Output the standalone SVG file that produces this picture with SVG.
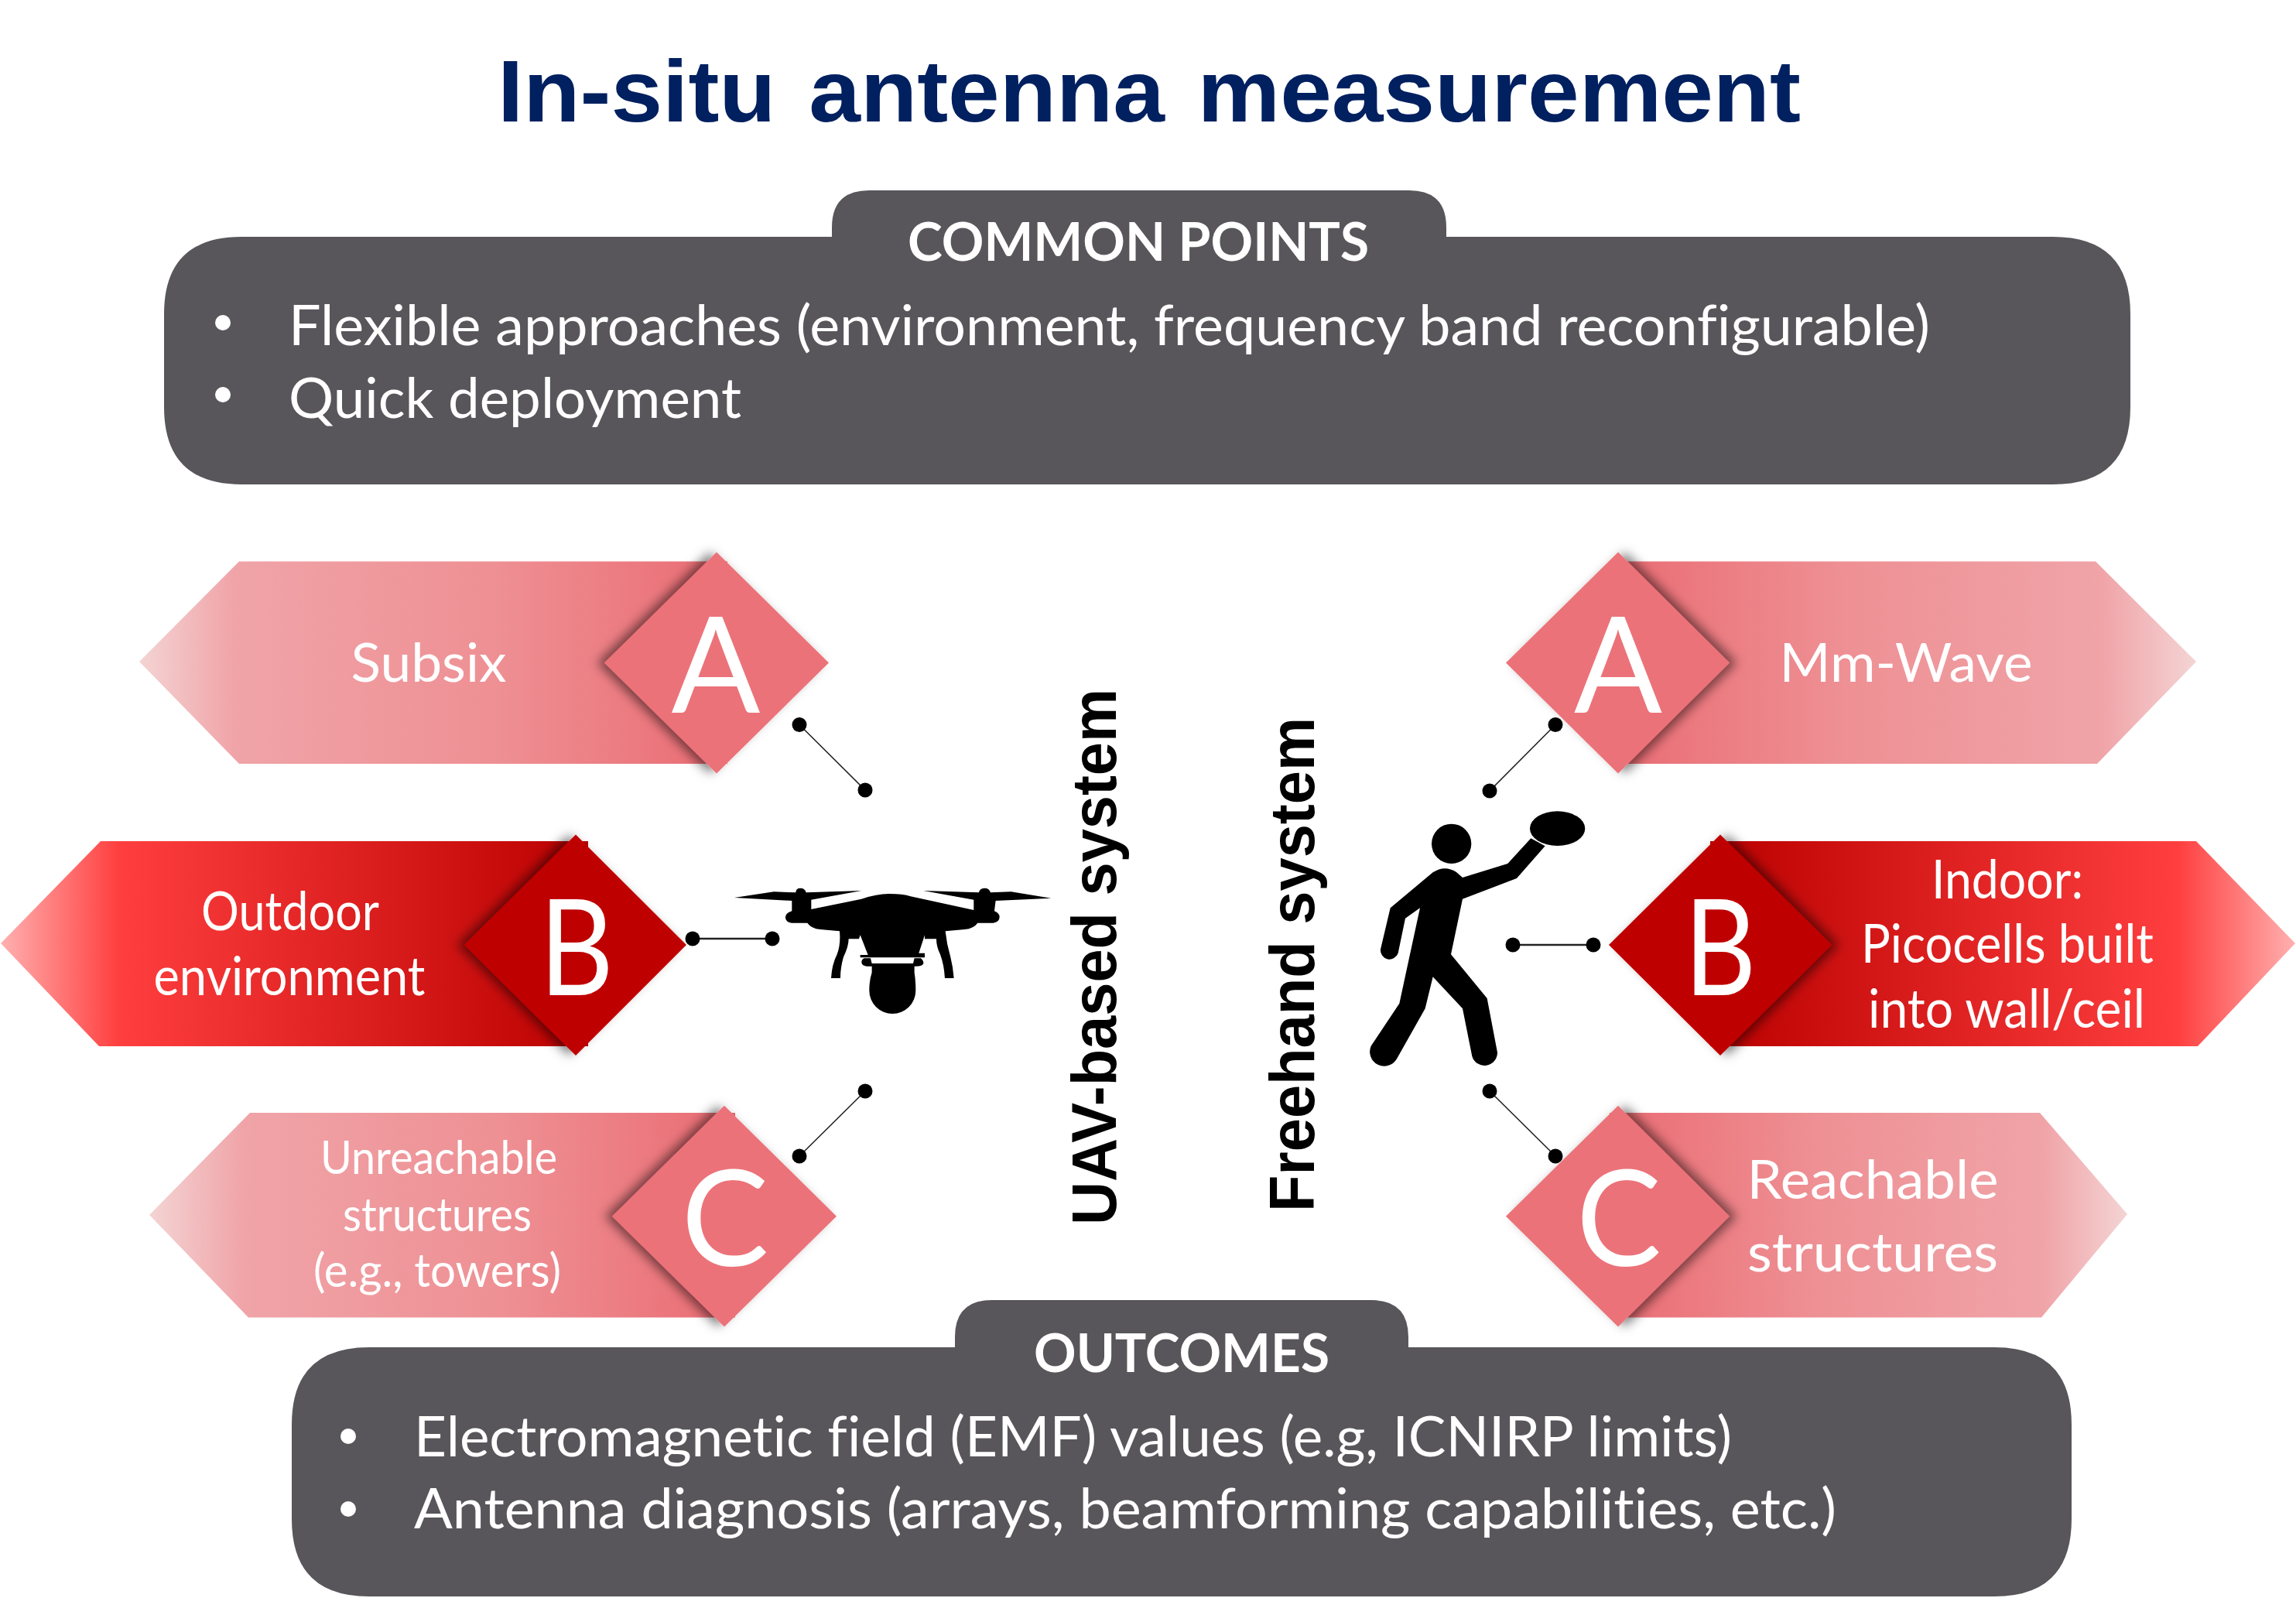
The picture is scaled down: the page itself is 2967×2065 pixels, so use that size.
<svg xmlns="http://www.w3.org/2000/svg" width="2967" height="2065" viewBox="0 0 2967 2065">
<defs>
<linearGradient id="gl" x1="0" x2="1" y1="0" y2="0"><stop offset="0" stop-color="#f4d4d4"/><stop offset=".16" stop-color="#f0a4a8"/><stop offset=".6" stop-color="#ee9094"/><stop offset="1" stop-color="#ea6c73"/></linearGradient>
<linearGradient id="gr" x1="1" x2="0" y1="0" y2="0"><stop offset="0" stop-color="#f4d4d4"/><stop offset=".16" stop-color="#f0a4a8"/><stop offset=".6" stop-color="#ee9094"/><stop offset="1" stop-color="#ea6c73"/></linearGradient>
<linearGradient id="gbl" x1="0" x2="1" y1="0" y2="0"><stop offset="0" stop-color="#ffb0b0"/><stop offset=".2" stop-color="#ff3f3f"/><stop offset="1" stop-color="#bb0000"/></linearGradient>
<linearGradient id="gbr" x1="1" x2="0" y1="0" y2="0"><stop offset="0" stop-color="#ffb0b0"/><stop offset=".2" stop-color="#ff3f3f"/><stop offset="1" stop-color="#bb0000"/></linearGradient>
<filter id="sl" x="-20%" y="-20%" width="140%" height="140%"><feDropShadow dx="-9" dy="0" stdDeviation="7" flood-color="#000" flood-opacity=".5"/></filter>
<filter id="sr" x="-20%" y="-20%" width="140%" height="140%"><feDropShadow dx="9" dy="0" stdDeviation="7" flood-color="#000" flood-opacity=".5"/></filter>
</defs>
<style>
text{font-family:"Lato","Carlito","Open Sans",sans-serif;fill:#fff;font-variant-ligatures:none}
.b{font-family:"Liberation Sans",Arial,sans-serif;font-weight:700}
.title{font-size:114px;fill:#002060;word-spacing:9px}
.v{font-size:82px;fill:#000}
.h{font-size:68px;font-weight:700;text-anchor:middle}
.l{font-size:72px}
.m{font-size:70px;text-anchor:middle}
.s{font-size:60px;text-anchor:middle}
.big{font-size:172px;font-weight:400;text-anchor:middle}
.pink{fill:#ec7279}
.red{fill:#bf0000}
.panel{fill:#58565a}
#connectors line{stroke:#222;stroke-width:1.6}
#connectors line.hz{stroke-width:2.5}
#connectors circle{fill:#000}
</style>
<rect width="2967" height="2065" fill="#fff"/>
<text id="title" class="b title" x="643" y="157" textLength="1684" lengthAdjust="spacingAndGlyphs">In-situ antenna measurement</text>

<g id="common-points">
<path class="panel" d="M1075 306V294Q1075 246 1123 246H1821Q1869 246 1869 294V306H2653Q2753 306 2753 406V526Q2753 626 2653 626H312Q212 626 212 526V406Q212 306 312 306Z"/>
<text class="h" x="1471" y="337" textLength="596" lengthAdjust="spacingAndGlyphs">COMMON POINTS</text>
<circle cx="288" cy="417" r="10" fill="#fff"/><circle cx="288" cy="510" r="10" fill="#fff"/>
<text class="l" x="373" y="446" textLength="2121" lengthAdjust="spacingAndGlyphs">Flexible approaches (environment, frequency band reconfigurable)</text>
<text class="l" x="373" y="540" textLength="585" lengthAdjust="spacingAndGlyphs">Quick deployment</text>
</g>

<g id="outcomes">
<path class="panel" d="M1234 1741V1728Q1234 1680 1282 1680H1772Q1820 1680 1820 1728V1741H2577Q2677 1741 2677 1841V1963Q2677 2063 2577 2063H477Q377 2063 377 1963V1841Q377 1741 477 1741Z"/>
<text class="h" x="1527" y="1773" textLength="382" lengthAdjust="spacingAndGlyphs">OUTCOMES</text>
<circle cx="450" cy="1856" r="10" fill="#fff"/><circle cx="450" cy="1950" r="10" fill="#fff"/>
<text class="l" x="535" y="1882" textLength="1703" lengthAdjust="spacingAndGlyphs">Electromagnetic field (EMF) values (e.g, ICNIRP limits)</text>
<text class="l" x="535" y="1975" textLength="1838" lengthAdjust="spacingAndGlyphs">Antenna diagnosis (arrays, beamforming capabilities, etc.)</text>
</g>

<g id="left-a">
<polygon fill="url(#gl)" points="180,855 309,725.5 940,725.5 940,987 309,987"/>
<polygon class="pink" filter="url(#sl)" points="926,713.5 1071,856.5 926,999.5 781,856.5"/>
<text class="big" x="925" y="921" textLength="115" lengthAdjust="spacingAndGlyphs">A</text>
<text class="m" x="554" y="881" textLength="201" lengthAdjust="spacingAndGlyphs">Subsix</text>
</g>
<g id="left-b">
<polygon fill="url(#gbl)" points="1,1219 130,1087 760,1087 760,1352 128,1352"/>
<polygon class="red" filter="url(#sl)" points="744,1078.5 887,1221 744,1364 600,1221"/>
<text class="big" x="745" y="1286" textLength="96" lengthAdjust="spacingAndGlyphs">B</text>
<text class="m" x="375" y="1202" textLength="230" lengthAdjust="spacingAndGlyphs">Outdoor</text>
<text class="m" x="374" y="1286" textLength="351" lengthAdjust="spacingAndGlyphs">environment</text>
</g>
<g id="left-c">
<polygon fill="url(#gl)" points="193,1570 323,1438 950,1438 950,1702.6 321,1702.6"/>
<polygon class="pink" filter="url(#sl)" points="936,1428.7 1081,1571.7 936,1714.6 791,1571.7"/>
<text class="big" x="937" y="1636" textLength="113" lengthAdjust="spacingAndGlyphs">C</text>
<text class="s" x="567" y="1517" textLength="306" lengthAdjust="spacingAndGlyphs">Unreachable</text>
<text class="s" x="565" y="1591" textLength="244" lengthAdjust="spacingAndGlyphs">structures</text>
<text class="s" x="565" y="1663" textLength="320" lengthAdjust="spacingAndGlyphs">(e.g., towers)</text>
</g>
<g id="right-a">
<polygon fill="url(#gr)" points="2838,855 2708,725.5 2080,725.5 2080,987 2710,987"/>
<polygon class="pink" filter="url(#sr)" points="2091,713.5 2235,856.5 2091,999.5 1946,856.5"/>
<text class="big" x="2091" y="921" textLength="114" lengthAdjust="spacingAndGlyphs">A</text>
<text class="m" x="2463" y="881" textLength="327" lengthAdjust="spacingAndGlyphs">Mm-Wave</text>
</g>
<g id="right-b">
<polygon fill="url(#gbr)" points="2966,1219 2838,1087 2210,1087 2210,1352 2840,1352"/>
<polygon class="red" filter="url(#sr)" points="2223,1078.5 2367,1221 2223,1364 2079,1221"/>
<text class="big" x="2223" y="1286" textLength="93" lengthAdjust="spacingAndGlyphs">B</text>
<text class="m" x="2594" y="1161" textLength="196" lengthAdjust="spacingAndGlyphs">Indoor:</text>
<text class="m" x="2594" y="1244" textLength="378" lengthAdjust="spacingAndGlyphs">Picocells built</text>
<text class="m" x="2593" y="1328" textLength="358" lengthAdjust="spacingAndGlyphs">into wall/ceil</text>
</g>
<g id="right-c">
<polygon fill="url(#gr)" points="2749,1569 2636,1438 2080,1438 2080,1702.6 2638,1702.6"/>
<polygon class="pink" filter="url(#sr)" points="2091,1428.7 2235,1571.7 2091,1714.6 1946,1571.7"/>
<text class="big" x="2092" y="1636" textLength="110" lengthAdjust="spacingAndGlyphs">C</text>
<text class="m" x="2420" y="1549" textLength="325" lengthAdjust="spacingAndGlyphs">Reachable</text>
<text class="m" x="2420" y="1643" textLength="324" lengthAdjust="spacingAndGlyphs">structures</text>
</g>

<g id="connectors">
<line x1="1033" y1="936.5" x2="1118" y2="1021"/><circle cx="1033" cy="936.5" r="9.5"/><circle cx="1118" cy="1021" r="9.5"/>
<line class="hz" x1="895" y1="1213" x2="998" y2="1213"/><circle cx="895" cy="1213" r="9.5"/><circle cx="998" cy="1213" r="9.5"/>
<line x1="1033" y1="1494" x2="1118" y2="1410"/><circle cx="1033" cy="1494" r="9.5"/><circle cx="1118" cy="1410" r="9.5"/>
<line x1="2010" y1="936.5" x2="1925" y2="1022"/><circle cx="2010" cy="936.5" r="9.5"/><circle cx="1925" cy="1022" r="9.5"/>
<line class="hz" x1="1955" y1="1221" x2="2059" y2="1221"/><circle cx="1955" cy="1221" r="9.5"/><circle cx="2059" cy="1221" r="9.5"/>
<line x1="1925" y1="1410" x2="2010" y2="1494"/><circle cx="1925" cy="1410" r="9.5"/><circle cx="2010" cy="1494" r="9.5"/>
</g>

<g id="uav" transform="translate(900 1090) scale(.3333)">
<path d="M147 210L300 187L385 190Q385 173 403 173Q421 173 425 190L640 183L445 218V255L640 215Q700 195 745 195Q800 195 830 205L1075 258V218L880 183L1095 190Q1098 173 1117 173Q1136 173 1140 190L1220 187L1375 212L1160 222L1155 262Q1175 270 1175 285Q1175 305 1150 308H1090Q1075 330 1040 333L965 340Q970 390 985 440Q995 480 998 522H963Q960 470 945 430Q930 400 930 370H885V355L862 425H885V442H635V432H665L635 355L630 370H590Q590 400 570 440Q558 480 558 522H522Q525 470 545 430Q560 390 555 340L480 333Q445 330 430 308H370Q345 305 345 285Q345 270 370 262V222Z" fill="#000"/>
<path d="M650 445H675L680 465H840L845 445H870Q882 455 880 465Q878 476 850 476H845V500Q850 530 850 570A90 90 0 0 1 670 570Q670 530 680 500V476H660Q640 474 640 460Q640 450 650 445Z" fill="#000"/>
</g>
<g id="person" transform="translate(1740 1030) scale(.3333)" fill="#000">
<circle cx="407" cy="181" r="77"/>
<ellipse cx="818" cy="122" rx="107" ry="67"/>
<path d="M335 292Q380 262 425 290L450 312L625 258L715 160L770 190L660 315L450 395L405 610L545 780L585 990A50 50 0 0 1 487 1005L450 820L335 697L305 820L195 1015A56 56 0 0 1 95 965L205 800L285 430L228 470L200 605A35 35 0 0 1 132 590L170 430Z"/>
</g>
<text id="uav-label" class="b v" transform="translate(1442 1583) rotate(-90)" textLength="693" lengthAdjust="spacingAndGlyphs">UAV-based system</text>
<text id="freehand-label" class="b v" transform="translate(1698 1566) rotate(-90)" textLength="639" lengthAdjust="spacingAndGlyphs">Freehand system</text>
</svg>
